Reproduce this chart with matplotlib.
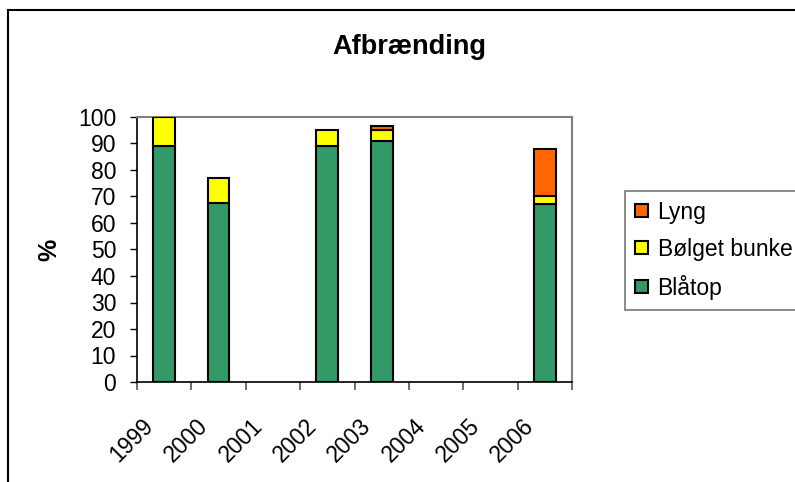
import matplotlib
matplotlib.use("Agg")
import matplotlib.pyplot as plt
import numpy as np
from matplotlib.lines import Line2D
from matplotlib.patches import Patch
from matplotlib.transforms import ScaledTranslation

# Data: share (%) of each species per year after burning
years = ['1999', '2000', '2001', '2002', '2003', '2004', '2005', '2006']
blaatop = [89, 67.5, 0, 89, 91, 0, 0, 67]
bolget_bunke = [11, 9.5, 0, 6, 4, 0, 0, 3]
lyng = [0, 0, 0, 0, 1.5, 0, 0, 18]

series_names = ['Blåtop', 'Bølget bunke', 'Lyng']
series_colors = ['#339966', '#FFFF00', '#FF6600']

plt.rcParams['font.family'] = ['Liberation Sans', 'DejaVu Sans']
FS = 16.5
TITLE_FS = 19.5

W, H = 795, 482
fig = plt.figure(figsize=(W / 100, H / 100), dpi=100)
fig.patch.set_facecolor('white')

ax = fig.add_axes([137 / W, 1 - 382 / H, 435 / W, 265 / H])

x = np.arange(len(years))
bottom = np.zeros(len(years))
for vals, name, col in zip([blaatop, bolget_bunke, lyng], series_names, series_colors):
    vals = np.asarray(vals, dtype=float)
    m = vals > 0
    ax.bar(x[m], vals[m], width=0.4, bottom=bottom[m], color=col,
           edgecolor='black', linewidth=1.5, zorder=3)
    bottom += vals

ax.set_xlim(-0.5, len(years) - 0.5)
ax.set_ylim(0, 100)
ax.set_yticks(np.arange(0, 101, 10))
ax.tick_params(axis='y', direction='out', length=5, width=1, color='black',
               labelsize=FS, pad=10)

# category boundaries carry the tick marks, centres carry the labels
ax.set_xticks(np.arange(-0.5, len(years), 1.0))
ax.set_xticklabels([])
ax.tick_params(axis='x', which='major', direction='out', length=6, width=1.2,
               color='#555555')
ax.set_xticks(x, minor=True)
ax.set_xticklabels(years, minor=True, rotation=45, ha='right', va='top',
                   fontsize=FS)
ax.tick_params(axis='x', which='minor', length=0, pad=23)
shift = ScaledTranslation(-6 / 100, 0, fig.dpi_scale_trans)
for lab in ax.get_xticklabels(minor=True):
    lab.set_transform(lab.get_transform() + shift)

for side in ['top', 'right']:
    ax.spines[side].set_color('#808080')
    ax.spines[side].set_linewidth(1.5)
for side in ['left', 'bottom']:
    ax.spines[side].set_color('black')
    ax.spines[side].set_linewidth(1.2)

fig.text(49 / W, 1 - 250 / H, '%', rotation=90, fontsize=18, fontweight='bold',
         ha='center', va='center')
fig.text(409 / W, 1 - 54 / H, 'Afbrænding', fontsize=TITLE_FS, fontweight='bold',
         ha='center', va='baseline')

handles = [Patch(facecolor=c, edgecolor='black', linewidth=1.5, label=n)
           for n, c in zip(series_names, series_colors)][::-1]
leg = fig.legend(handles=handles, loc='upper left',
                 bbox_to_anchor=(625 / W, 1 - 191 / H), fontsize=FS,
                 frameon=True, fancybox=False, shadow=False,
                 borderpad=0.42, handlelength=0.6, handleheight=0.5,
                 handletextpad=0.4, labelspacing=0.62, borderaxespad=0)
leg.get_frame().set_edgecolor('#555555')
leg.get_frame().set_linewidth(1.2)

# outer chart frame
fig.add_artist(Line2D([8 / W, 1], [1 - 10 / H, 1 - 10 / H], transform=fig.transFigure,
                      color='black', linewidth=1.5))
fig.add_artist(Line2D([8 / W, 8 / W], [0, 1 - 10 / H], transform=fig.transFigure,
                      color='black', linewidth=1.5))

fig.savefig('out.png', dpi=100, facecolor='white')
